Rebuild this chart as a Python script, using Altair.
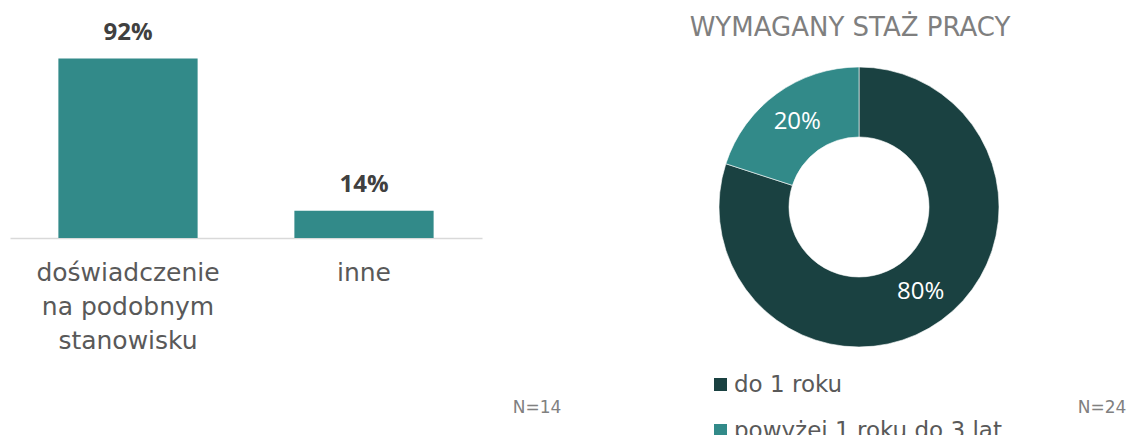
import altair as alt
import pandas as pd

# ---- data ----
bar_categories = ["doświadczenie|na podobnym|stanowisku", "inne"]
bar_values = [92, 14]
bar_labels = ["92%", "14%"]

donut_categories = ["do 1 roku", "powyżej 1 roku do 3 lat"]
donut_values = [80, 20]
donut_labels = ["80%", "20%"]
donut_colors = ["#1A4141", "#328A89"]

title_text = ["WYMAGANY STAŻ PRACY"]
n_left = ["N=14"]
n_right = ["N=24"]

bar_df = pd.DataFrame({"kategoria": bar_categories, "wartosc": bar_values, "etykieta": bar_labels})
donut_df = pd.DataFrame({"kategoria": donut_categories, "wartosc": donut_values, "etykieta": donut_labels})

# ---- left: bar chart ----
x_enc = alt.X(
    "kategoria:N",
    sort=bar_categories,
    scale=alt.Scale(paddingInner=0.41, paddingOuter=0.205),
    axis=alt.Axis(
        title=None, labelAngle=0, ticks=False,
        domainColor="#D9D9D9", domainWidth=1.5,
        labelFont="DejaVu Sans", labelFontSize=25, labelColor="#595959",
        labelLineHeight=34, labelPadding=22, labelBaseline="top", labelLimit=400,
        labelExpr="split(datum.label, '|')",
    ),
)
y_enc = alt.Y("wartosc:Q", scale=alt.Scale(domain=[0, 100]), axis=None)

bars = alt.Chart(bar_df).mark_bar(color="#328A89").encode(x=x_enc, y=y_enc)
bar_text = alt.Chart(bar_df).mark_text(
    dy=-26, fontSize=24, fontWeight="bold", font="Open Sans", color="#404040", baseline="middle"
).encode(x=x_enc, y=y_enc, text="etykieta:N")
n_left_text = alt.Chart(pd.DataFrame({"t": n_left})).mark_text(
    font="DejaVu Sans", fontSize=17, color="#808080", baseline="middle"
).encode(x=alt.value(527), y=alt.value(365), text="t:N")

left = alt.layer(bars, bar_text, n_left_text).properties(width=472, height=195)

# ---- right: donut ----
theta_enc = alt.Theta("wartosc:Q", stack=True)
order_enc = alt.Order("kategoria:N", sort="ascending")
arc = alt.Chart(donut_df).mark_arc(outerRadius=140, innerRadius=70, stroke="white", strokeWidth=0.6).encode(
    theta=theta_enc,
    order=order_enc,
    color=alt.Color(
        "kategoria:N",
        scale=alt.Scale(domain=donut_categories, range=donut_colors),
        legend=alt.Legend(
            title=None, orient="none", legendX=699, legendY=330,
            symbolType="square", symbolSize=169, symbolStrokeWidth=0,
            labelFont="DejaVu Sans", labelFontSize=23, labelColor="#595959",
            rowPadding=22, labelOffset=2, labelLimit=500, padding=0,
        ),
    ),
)
arc_text = alt.Chart(donut_df).mark_text(
    radius=105, fontSize=24, font="Open Sans", color="white", baseline="middle"
).encode(theta=theta_enc, order=order_enc, detail="kategoria:N", text="etykieta:N")
n_right_text = alt.Chart(pd.DataFrame({"t": n_right})).mark_text(
    font="DejaVu Sans", fontSize=17, color="#808080", baseline="middle"
).encode(x=alt.value(393), y=alt.value(365), text="t:N")
title_mark = alt.Chart(pd.DataFrame({"t": title_text})).mark_text(
    font="DejaVu Sans", fontSize=26, color="#7F7F7F", baseline="middle", align="center"
).encode(x=alt.value(141), y=alt.value(-15), text="t:N")

right = alt.layer(arc, arc_text, n_right_text, title_mark).properties(width=300, height=328)

chart = alt.hconcat(left, right, spacing=227, bounds="flush").properties(
    padding={"left": 10, "top": 15, "right": 0, "bottom": 0},
    background="white",
).configure_view(stroke=None)

chart.save("out.html", embed_options={"renderer": "svg", "actions": False})
